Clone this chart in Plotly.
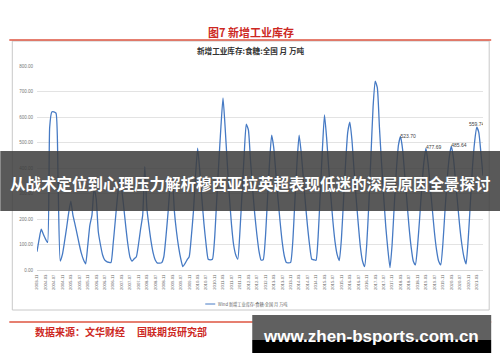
import plotly.graph_objects as go

# ---------------- data ----------------
tick_labels = ["2003-11"]
for yr in range(2004, 2021):
    tick_labels += [f"{yr}-03", f"{yr}-07", f"{yr}-11"]
tick_labels += ["2021-03"]

inventory = [
    72, 120, 160, 140, 122, 108, 560, 620, 620, 615,
    330, 35, 60, 110, 165, 225, 270, 215, 178, 140,
    100, 65, 40, 24, 95, 175, 215, 320, 280, 150,
    100, 60, 40, 33, 30, 29, 100, 190, 280, 350,
    320, 250, 170, 100, 50, 35, 44, 52, 100, 160,
    215, 405, 240, 170, 110, 65, 38, 27, 27, 29,
    52, 130, 225, 330, 360, 230, 150, 90, 45, 13,
    25, 40, 52, 130, 229, 370, 478, 390, 280, 180,
    100, 42, 40, 42, 120, 270, 420, 560, 675, 560,
    420, 290, 180, 100, 60, 43, 150, 300, 450, 572,
    550, 430, 320, 220, 140, 75, 39, 40, 120, 270,
    420, 529, 480, 380, 280, 190, 110, 55, 29, 28,
    30, 110, 270, 420, 529, 460, 360, 260, 170, 95,
    42, 40, 38, 130, 300, 470, 608, 520, 400, 290,
    190, 110, 60, 37, 120, 270, 420, 540, 580, 510,
    390, 280, 180, 90, 35, 13, 100, 260, 450, 640,
    741, 715, 560, 420, 290, 170, 80, 9, 100, 250,
    390, 490, 523.70, 470, 370, 270, 170, 90, 35, 20,
    90, 200, 320, 420, 477.69, 420, 330, 240, 150, 80,
    35, 20, 100, 230, 350, 440, 485.64, 440, 350, 260,
    170, 100, 50, 24, 120, 260, 400, 500, 559.74, 540,
    460, 370,
]
months = list(range(len(inventory)))
tick_positions = list(range(0, len(inventory), 4))[:len(tick_labels)]
label_points = [172, 184, 196, 208]
label_positions = ["middle right", "middle right", "middle right", "top center"]

y_ticks = [0, 100, 200, 300, 400, 500, 600, 700, 800]

chart_title = "新增工业库存:食糖:全国 月 万吨"
legend_name = "Wind 新增工业库存:食糖:全国 月 万吨"
fig_title = "图7 新增工业库存"
source_1 = "数据来源：文华财经"
source_2 = "国联期货研究部"
banner_text = "从战术定位到心理压力解析穆西亚拉英超表现低迷的深层原因全景探讨"
watermark = "www.zhen-bsports.com.cn"

# ---------------- layout helpers ----------------
W, H = 500, 362
L, R, T, B = 36.7, 482.8, 66.0, 270.0


def px(x):
    return (x - L) / (R - L)


def py(y):
    return (B - y) / (B - T)


CJK = "Noto Sans CJK SC"
LINE_BLUE = "rgb(70,122,196)"
RED = "rgb(205,40,35)"

fig = go.Figure()
fig.add_trace(go.Scatter(
    x=months, y=inventory, mode="lines",
    line=dict(color=LINE_BLUE, width=1.3, shape="spline", smoothing=0.5),
    showlegend=False, hoverinfo="skip",
))
fig.add_trace(go.Scatter(
    x=[months[i] for i in label_points],
    y=[inventory[i] for i in label_points],
    mode="text",
    text=[f"{inventory[i]:.2f}" for i in label_points],
    textposition=label_positions,
    textfont=dict(size=5, color="#444", family="Liberation Sans"),
    showlegend=False, hoverinfo="skip",
))

shapes = []
annotations = []

# outer chart box
shapes.append(dict(type="rect", xref="paper", yref="paper",
                   x0=px(12), x1=px(489), y0=py(310), y1=py(41),
                   line=dict(color="#c8c8c8", width=1), layer="below"))
# red rules
for yy in (40, 322):
    shapes.append(dict(type="line", xref="paper", yref="paper",
                       x0=px(9), x1=px(491), y0=py(yy), y1=py(yy),
                       line=dict(color="rgb(222,85,65)", width=1.6)))
# legend sample line
shapes.append(dict(type="line", xref="paper", yref="paper",
                   x0=px(205), x1=px(215), y0=py(304), y1=py(304),
                   line=dict(color=LINE_BLUE, width=1)))
# banner
shapes.append(dict(type="rect", xref="paper", yref="paper",
                   x0=px(0), x1=px(500), y0=py(211), y1=py(151),
                   fillcolor="rgba(62,62,62,0.86)", line=dict(width=0), layer="above"))
# watermark box
shapes.append(dict(type="rect", xref="paper", yref="paper",
                   x0=px(252), x1=px(491), y0=py(340), y1=py(315),
                   fillcolor="rgb(96,96,96)", line=dict(width=0), layer="above"))
shapes.append(dict(type="rect", xref="paper", yref="paper",
                   x0=px(252), x1=px(491), y0=py(353), y1=py(340),
                   fillcolor="rgb(0,0,0)", line=dict(width=0), layer="above"))

annotations.append(dict(text=fig_title, x=px(251), y=py(32), xref="paper", yref="paper",
                        showarrow=False, xanchor="center", yanchor="middle",
                        font=dict(family=CJK, size=11, color=RED, weight="bold")))
annotations.append(dict(text=chart_title, x=px(250.5), y=py(50), xref="paper", yref="paper",
                        showarrow=False, xanchor="center", yanchor="middle",
                        font=dict(family=CJK, size=7.6, color="#333", weight="bold")))
annotations.append(dict(text=legend_name, x=px(216), y=py(304), xref="paper", yref="paper",
                        showarrow=False, xanchor="left", yanchor="middle",
                        font=dict(family=CJK, size=4.2, color="#666")))
annotations.append(dict(text=source_1, x=px(33), y=py(331), xref="paper", yref="paper",
                        showarrow=False, xanchor="left", yanchor="middle",
                        font=dict(family=CJK, size=10, color=RED, weight="bold")))
annotations.append(dict(text=source_2, x=px(135), y=py(331), xref="paper", yref="paper",
                        showarrow=False, xanchor="left", yanchor="middle",
                        font=dict(family=CJK, size=10, color=RED, weight="bold")))
annotations.append(dict(text=banner_text, x=px(250), y=py(183), xref="paper", yref="paper",
                        showarrow=False, xanchor="center", yanchor="middle",
                        font=dict(family=CJK, size=15.5, color="white", weight="bold")))
annotations.append(dict(text=watermark, x=px(371), y=py(336), xref="paper", yref="paper",
                        showarrow=False, xanchor="center", yanchor="middle",
                        font=dict(family="Liberation Sans", size=17, color="white", weight="bold")))

fig.update_layout(
    width=W, height=H,
    margin=dict(l=L, r=W - R, t=T, b=H - B, pad=0),
    paper_bgcolor="white", plot_bgcolor="white",
    shapes=shapes, annotations=annotations,
    showlegend=False,
    xaxis=dict(
        range=[0, len(inventory) - 1], tickmode="array",
        tickvals=tick_positions, ticktext=tick_labels, tickangle=-90,
        showgrid=False, zeroline=False, showline=True, linecolor="#d9d9d9", linewidth=1,
        ticks="outside", ticklen=2, tickcolor="rgba(0,0,0,0)",
        tickfont=dict(family="Liberation Sans", size=4.2, color="#666"),
        automargin=False, fixedrange=True,
    ),
    yaxis=dict(
        range=[0, 800], tickmode="array", tickvals=y_ticks, tickformat=".2f",
        showgrid=True, gridcolor="#e3e3e3", gridwidth=1, zeroline=False, showline=False,
        ticks="outside", ticklen=2, tickcolor="rgba(0,0,0,0)",
        tickfont=dict(family="Liberation Sans", size=4.5, color="#777"),
        automargin=False, fixedrange=True,
    ),
)

fig.write_html("out.html")
